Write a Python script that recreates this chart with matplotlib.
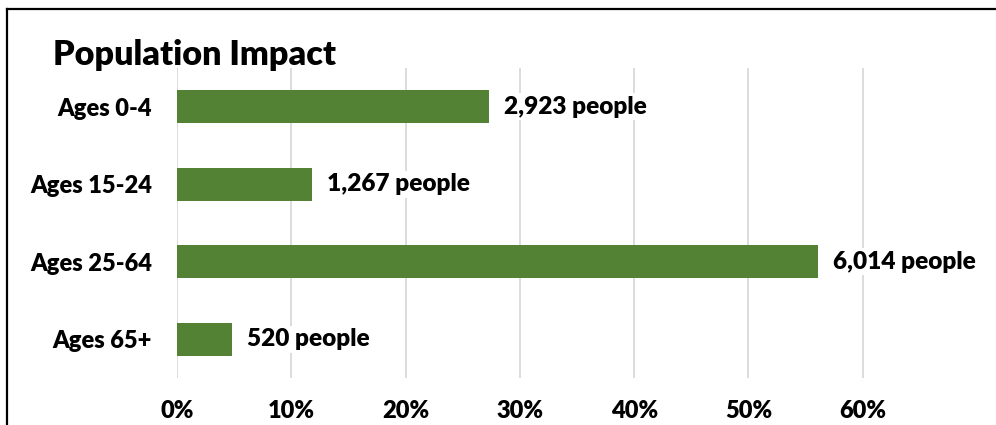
import matplotlib.pyplot as plt
from matplotlib.lines import Line2D

# data
groups = ['Ages 0-4', 'Ages 15-24', 'Ages 25-64', 'Ages 65+']
share = [0.273, 0.118, 0.561, 0.048]
people = [2923, 1267, 6014, 520]
ticks = [0.0, 0.1, 0.2, 0.3, 0.4, 0.5, 0.6]

plt.rcParams['font.family'] = ['Lato', 'DejaVu Sans']
plt.rcParams['font.weight'] = 'heavy'

W, H = 996, 425
fig = plt.figure(figsize=(W / 100, H / 100), dpi=100)
ax = fig.add_axes([177 / W, 1 - 378 / H, (977 - 177) / W, (378 - 68) / H])

y = list(range(len(groups)))
ax.barh(y, share, height=0.42, color='#548235', zorder=2)
ax.set_ylim(len(groups) - 0.5, -0.5)
ax.set_xlim(0, 0.7)

ax.set_xticks(ticks)
ax.set_xticklabels(['{:.0f}%'.format(t * 100) for t in ticks])
ax.set_yticks(y)
ax.set_yticklabels(groups)
ax.tick_params(axis='both', length=0, labelsize=17, colors='black')
ax.tick_params(axis='x', pad=16)
ax.tick_params(axis='y', pad=18)
for lab in ax.get_xticklabels() + ax.get_yticklabels():
    lab.set_fontweight('heavy')

ax.grid(axis='x', color='#d9d9d9', linewidth=1.3, zorder=0)
ax.set_axisbelow(True)
for s in ax.spines.values():
    s.set_visible(False)

for yi, v, n in zip(y, share, people):
    ax.annotate('{:,} people'.format(n), (v, yi), xytext=(11, 0),
                textcoords='offset points', va='center', ha='left',
                fontsize=17.6, fontweight='heavy',
                bbox=dict(facecolor='white', edgecolor='none', pad=2),
                zorder=3)

fig.text(53 / W, 1 - 55 / H, 'Population Impact', fontsize=24.6,
         fontweight='heavy', va='center', ha='left')

# chart border (left and top visible)
fig.add_artist(Line2D([7 / W, 7 / W], [0, 1 - 9 / H], transform=fig.transFigure,
                      color='black', linewidth=1.6))
fig.add_artist(Line2D([7 / W, 1], [1 - 9 / H, 1 - 9 / H], transform=fig.transFigure,
                      color='black', linewidth=1.6))

fig.savefig('out.png', dpi=100)
